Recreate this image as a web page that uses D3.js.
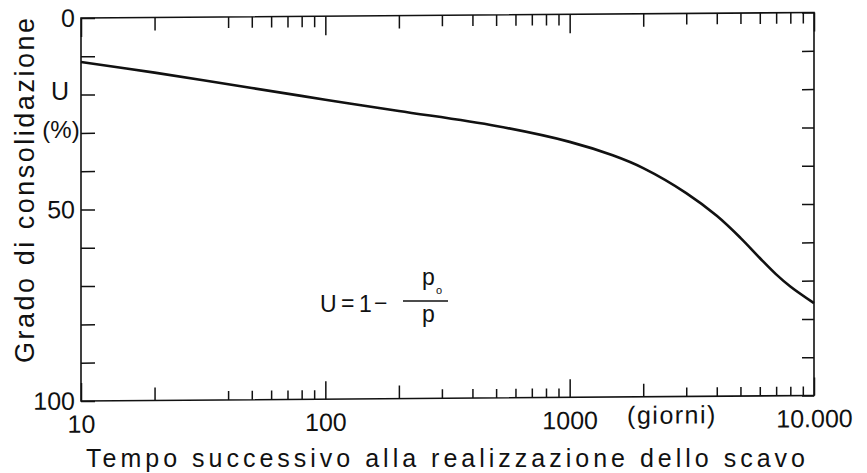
<!DOCTYPE html>
<html>
<head>
<meta charset="utf-8">
<script src="https://cdn.jsdelivr.net/npm/d3@7/dist/d3.min.js"></script>
<style>
  html, body { margin: 0; padding: 0; background: #fff; }
  svg text { font-family: "Liberation Sans", Arial, Helvetica, sans-serif; fill: #111; }
</style>
</head>
<body>
<svg id="chart" width="867" height="473"></svg>
<script>
// Data: consolidation degree U (%) vs time (days)
const days = [10, 20, 50, 100, 200, 500, 1000, 1500, 2000, 3000, 4000, 5000, 6000, 7000, 8000, 10000];
const consolidation = [11.5, 14.4, 18.6, 21.8, 24.9, 29.0, 33.3, 36.9, 40.3, 46.9, 52.9, 58.7, 64.0, 68.3, 71.5, 75.9];

// Axis tick values and labels
const yTickValues = [0, 10, 20, 30, 40, 50, 60, 70, 80, 90, 100];
const yTickLabels = { 0: '0', 50: '50', 100: '100' };
const xTickLabels = { 10: '10', 100: '100', 1000: '1000', 10000: '10.000' };

const plot = { left: 81, right: 814, top: 18, bottom: 401 };
const skewAngle = -0.43; // the scanned frame leans a little

const svg = d3.select('#chart');

const x = d3.scaleLog().domain([10, 10000]).range([plot.left, plot.right]);
const y = d3.scaleLinear().domain([0, 100]).range([plot.top, plot.bottom]);

// x ticks: every 1..9 per decade, the faint 30 tick is missing in the original
const xTickValues = x.ticks().filter(d => d !== 30);
const isDecade = d => Math.abs(Math.log10(d) - Math.round(Math.log10(d))) < 1e-9;
const topTickLen = d => isDecade(d) ? 19 : (String(d)[0] === '2' ? 13 : 11);
const bottomTickLen = d => isDecade(d) ? 18 : (String(d)[0] === '2' ? 13 : 9);

const frame = svg.append('g')
    .attr('transform', `translate(${plot.left},0) skewY(${skewAngle}) translate(${-plot.left},0)`);

// plot border
frame.append('rect')
    .attr('x', plot.left)
    .attr('y', plot.top)
    .attr('width', plot.right - plot.left)
    .attr('height', plot.bottom - plot.top)
    .attr('fill', 'none')
    .attr('stroke', '#111')
    .attr('stroke-width', 1.6);

const styleAxis = g => {
    g.select('.domain').remove();
    g.selectAll('.tick line').attr('stroke', '#111').attr('stroke-width', 1.5);
    g.selectAll('.tick text')
        .attr('font-size', 25)
        .attr('font-family', '"Liberation Sans", Arial, sans-serif')
        .attr('fill', '#111');
};

// left axis (ticks inside)
frame.append('g')
    .attr('transform', `translate(${plot.left},0)`)
    .call(d3.axisLeft(y).tickValues(yTickValues).tickSize(-14).tickPadding(6)
        .tickFormat(d => yTickLabels[d] || ''))
    .call(styleAxis);

// right axis (ticks inside)
frame.append('g')
    .attr('transform', `translate(${plot.right},0)`)
    .call(d3.axisRight(y).tickValues(yTickValues).tickSize(-12).tickFormat(''))
    .call(styleAxis);

// bottom axis
const bottomAxis = frame.append('g')
    .attr('transform', `translate(0,${plot.bottom})`)
    .call(d3.axisBottom(x).tickValues(xTickValues).tickSize(-10).tickPadding(14)
        .tickFormat(d => xTickLabels[d] || ''))
    .call(styleAxis);
bottomAxis.selectAll('.tick line').attr('y2', d => -bottomTickLen(d));

// top axis
const topAxis = frame.append('g')
    .attr('transform', `translate(0,${plot.top})`)
    .call(d3.axisTop(x).tickValues(xTickValues).tickSize(-10).tickFormat(''))
    .call(styleAxis);
topAxis.selectAll('.tick line').attr('y2', d => topTickLen(d));

// unit label on x axis
frame.append('text')
    .attr('x', 672)
    .attr('y', 428)
    .attr('text-anchor', 'middle')
    .attr('font-size', 25)
    .attr('letter-spacing', 1.5)
    .text('(giorni)');

// curve
const line = d3.line()
    .x((d, i) => x(days[i]))
    .y(d => y(d))
    .curve(d3.curveCatmullRom.alpha(0.5));

frame.append('path')
    .datum(consolidation)
    .attr('d', line)
    .attr('fill', 'none')
    .attr('stroke', '#111')
    .attr('stroke-width', 2.6);

// y axis labels
svg.append('text')
    .attr('x', 60).attr('y', 100)
    .attr('text-anchor', 'middle')
    .attr('font-size', 25)
    .text('U');

svg.append('text')
    .attr('x', 61).attr('y', 138)
    .attr('text-anchor', 'middle')
    .attr('font-size', 24)
    .text('(%)');

svg.append('text')
    .attr('transform', 'translate(34,363) rotate(-90)')
    .attr('font-size', 27)
    .attr('textLength', 345)
    .attr('lengthAdjust', 'spacing')
    .text('Grado di consolidazione');

// x axis title
svg.append('text')
    .attr('x', 86).attr('y', 467)
    .attr('font-size', 25)
    .attr('textLength', 719)
    .attr('lengthAdjust', 'spacing')
    .text('Tempo successivo alla realizzazione dello scavo');

// formula U = 1 - p_o / p
const formula = svg.append('g').attr('font-size', 23);
formula.append('text').attr('x', 320).attr('y', 312).text('U');
formula.append('text').attr('x', 341).attr('y', 311).text('=');
formula.append('text').attr('x', 359).attr('y', 312).text('1');
formula.append('text').attr('x', 374).attr('y', 311).text('\u2212');
formula.append('line')
    .attr('x1', 403).attr('x2', 448)
    .attr('y1', 301).attr('y2', 301)
    .attr('stroke', '#111').attr('stroke-width', 1.5);
formula.append('text').attr('x', 422).attr('y', 285).text('p');
formula.append('text').attr('x', 436).attr('y', 294).attr('font-size', 11).text('o');
formula.append('text').attr('x', 422).attr('y', 322).text('p');
</script>
</body>
</html>
